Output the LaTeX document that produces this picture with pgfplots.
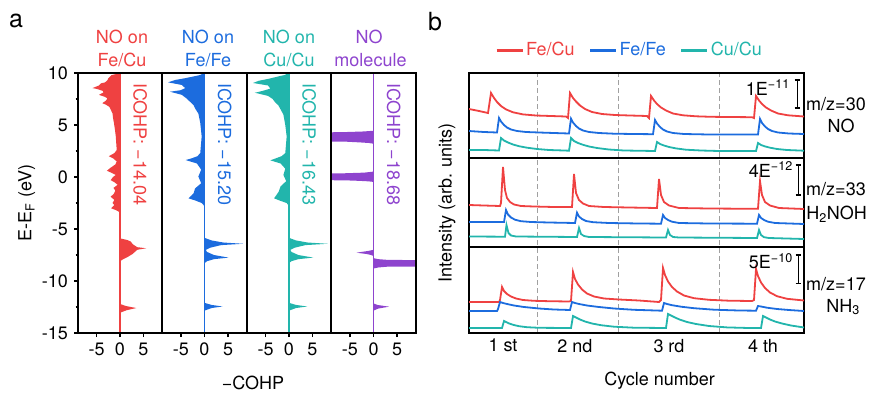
\documentclass[border=0pt]{standalone}
\usepackage{pgfplots}
\pgfplotsset{compat=1.18}
\usepackage{fontspec}
\setmainfont{TeX Gyre Heros}
\definecolor{fecu}{RGB}{239,65,65}
\definecolor{fefe}{RGB}{28,108,222}
\definecolor{cucu}{RGB}{34,181,172}
\definecolor{mol}{RGB}{142,68,206}
\definecolor{dashgray}{RGB}{160,160,160}
\tikzset{frm/.style={line width=1.6pt}}
\begin{document}
\fontsize{18}{21}\selectfont
\begin{tikzpicture}
\useasboundingbox (0pt,0pt) rectangle (875pt,392pt);
\pgfplotsset{
 pa/.style={scale only axis, height=260pt, anchor=south west,
   xmin=-9, xmax=9, ymin=-15, ymax=10, clip mode=individual,
   axis line style={line width=1.6pt}, tick style={black, line width=1.3pt},
   tick align=outside, major tick length=4pt, minor tick length=2.5pt,
   xtick={-5,0,5}, xticklabels={-5,0,5}, xtick pos=bottom, ytick pos=left,
   ytick=\empty, tick label style={font=\fontsize{18}{21}\selectfont},
   label style={font=\fontsize{18}{21}\selectfont}},
 fillp/.style={fill=#1, draw=none},
 zl/.style={#1, line width=1.6pt},
}
% ---------- panel a, subplot 1 ----------
\begin{axis}[pa, width=84pt, at={(78pt,59pt)}, ytick={-15,-10,-5,0,5,10}, yticklabels={-15,-10,-5,0,5,10},
  minor ytick={-12.5,-7.5,-2.5,2.5,7.5},
  ylabel={E-E\textsubscript{F} (eV)}, ylabel style={at={(axis description cs:-0.61,0.5)}, anchor=center}]
\addplot[fillp=fecu] coordinates {(0,10) (-0.3,9.95) (-1.8,9.8) (-2.5,9.5) (-2.7,9.3) (-3.2,9.1) (-4.1,9.0) (-4.5,8.8) (-5.9,8.55) (-4.8,8.45) (-3.8,8.3) (-3.5,8.15) (-4.5,7.9) (-3.2,7.7) (-2.7,7.55) (-3.0,7.35) (-3.8,7.1) (-3.0,6.95) (-2.3,6.75) (-2.0,6.5) (-1.6,6.1) (-1.5,5.7) (-1.3,5.2) (-1.1,4.6) (-0.9,3.9) (-0.8,3.2) (-0.7,2.6) (-1.2,2.3) (-2.4,2.0) (-1.5,1.8) (-0.7,1.5) (-1.0,1.2) (-2.0,0.9) (-2.8,0.6) (-1.8,0.4) (-0.9,0.2) (-1.5,0) (-2.0,-0.3) (-1.2,-0.5) (-0.5,-0.75) (-1.4,-1.05) (-1.0,-1.3) (-1.3,-1.6) (-2.0,-1.9) (-1.2,-2.2) (-1.6,-2.5) (-1.2,-2.7) (-1.9,-3.0) (-0.8,-3.2) (0,-3.4) (0,-5.9) (1.5,-6.05) (2.3,-6.2) (2.7,-6.45) (3.2,-6.6) (3.7,-6.75) (5.6,-6.85) (3.7,-7.0) (3.2,-7.2) (2.7,-7.4) (1.6,-7.7) (0.7,-7.9) (0,-8.1) (0,-12.2) (1.2,-12.4) (3.5,-12.6) (1.5,-12.8) (0,-13.05) (0,-15)};
\addplot[zl=fecu] coordinates {(0,-15) (0,10)};
\node[rotate=-90, anchor=west, inner sep=0pt, text=fecu] at (axis cs:4.3,9.05) {ICOHP: −14.04};
\draw[frm] (rel axis cs:0,0) rectangle (rel axis cs:1,1);
\end{axis}
% ---------- subplot 2 ----------
\begin{axis}[pa, width=85pt, at={(162pt,59pt)}, xlabel={−COHP}, xlabel style={at={(axis description cs:1.071,-0.192)}, anchor=center}]
\addplot[fillp=fefe] coordinates {(0,10) (-1.0,9.8) (-2.0,9.7) (-4.1,9.5) (-6.2,9.33) (-7.7,9.1) (-4.8,8.85) (-4.1,8.55) (-5.0,8.35) (-7.3,8.2) (-4.8,7.9) (-3.8,7.55) (-3.1,7.25) (-2.3,6.9) (-2.0,6.6) (-1.3,6.1) (-0.9,5.2) (-0.6,3.9) (-0.9,2.3) (-1.5,2.0) (-2.7,1.8) (-4.0,1.63) (-1.6,1.3) (-0.7,0.7) (-1.3,0.05) (-0.7,-0.6) (-2.0,-1.1) (-2.3,-1.55) (-2.8,-1.8) (-3.4,-2.05) (-2.0,-2.25) (-0.6,-2.5) (0,-2.8) (0,-5.85) (1.5,-6.1) (4.0,-6.3) (8.2,-6.42) (3.5,-6.55) (1.2,-6.8) (0.3,-7.0) (0.5,-7.2) (2.0,-7.5) (5.1,-7.75) (2.0,-7.9) (0.5,-8.1) (0,-8.3) (0,-12.1) (1.5,-12.3) (3.8,-12.45) (1.5,-12.6) (0,-12.85) (0,-15)};
\addplot[zl=fefe] coordinates {(0,-15) (0,10)};
\node[rotate=-90, anchor=west, inner sep=0pt, text=fefe] at (axis cs:4.3,9.05) {ICOHP: −15.20};
\draw[frm] (rel axis cs:0,0) rectangle (rel axis cs:1,1);
\end{axis}
% ---------- subplot 3 ----------
\begin{axis}[pa, width=84pt, at={(247pt,59pt)}]
\addplot[fillp=cucu] coordinates {(0,10) (-1.0,9.8) (-2.0,9.7) (-4.3,9.45) (-6.5,9.25) (-7.7,9.04) (-4.5,8.8) (-4.0,8.5) (-5.5,8.3) (-7.3,8.1) (-4.5,7.8) (-3.5,7.5) (-3.0,7.2) (-2.3,6.9) (-1.8,6.5) (-1.2,6.0) (-0.8,5.0) (-0.5,3.9) (-0.8,2.3) (-1.6,2.0) (-2.8,1.8) (-4.0,1.6) (-1.8,1.3) (-0.8,0.8) (-1.2,0.2) (-0.6,-0.4) (-1.8,-0.9) (-2.2,-1.4) (-2.8,-1.8) (-3.2,-2.05) (-1.8,-2.3) (-0.5,-2.5) (0,-2.8) (0,-5.85) (1.5,-6.1) (4.0,-6.3) (8.3,-6.42) (3.5,-6.55) (1.2,-6.8) (0.3,-7.0) (0.5,-7.2) (2.0,-7.5) (5.2,-7.75) (2.0,-7.9) (0.5,-8.1) (0,-8.3) (0,-12.1) (1.5,-12.3) (3.9,-12.45) (1.5,-12.6) (0,-12.85) (0,-15)};
\addplot[zl=cucu] coordinates {(0,-15) (0,10)};
\node[rotate=-90, anchor=west, inner sep=0pt, text=cucu] at (axis cs:4.3,9.05) {ICOHP: −16.43};
\draw[frm] (rel axis cs:0,0) rectangle (rel axis cs:1,1);
\end{axis}
% ---------- subplot 4 ----------
\begin{axis}[pa, width=85pt, at={(331pt,59pt)}]
\addplot[fillp=mol] coordinates {(0,10) (0,4.45) (-2,4.38) (-6,4.32) (-12,4.28) (-12,3.42) (-6,3.4) (-3,3.33) (-1,3.27) (0,3.2) (0,0.52) (-2,0.42) (-6,0.36) (-12,0.33) (-12,-0.3) (-6,-0.32) (-3,-0.37) (-1,-0.42) (0,-0.47) (0,-7.0) (-1,-7.1) (-2.5,-7.2) (-3.6,-7.28) (-1.5,-7.4) (-0.5,-7.5) (0,-7.6) (0,-7.8) (1,-7.9) (3,-7.97) (12,-8.0) (12,-8.6) (3,-8.62) (1,-8.7) (0,-8.8) (0,-12.15) (0.8,-12.3) (3.3,-12.47) (1,-12.65) (0,-12.85) (0,-15)};
\addplot[zl=mol] coordinates {(0,-15) (0,10)};
\node[rotate=-90, anchor=west, inner sep=0pt, text=mol] at (axis cs:4.3,9.05) {ICOHP: −18.68};
\draw[frm] (rel axis cs:0,0) rectangle (rel axis cs:1,1);
\end{axis}
% titles panel a
\node[anchor=base, text=fecu] at (122pt,348.7pt) {NO on};
\node[anchor=base, text=fecu] at (122pt,325.3pt) {Fe/Cu};
\node[anchor=base, text=fefe] at (208pt,348.7pt) {NO on};
\node[anchor=base, text=fefe] at (208pt,325.3pt) {Fe/Fe};
\node[anchor=base, text=cucu] at (289pt,348.7pt) {NO on};
\node[anchor=base, text=cucu] at (289pt,325.3pt) {Cu/Cu};
\node[anchor=base, text=mol] at (369pt,348.7pt) {NO};
\node[anchor=base, text=mol] at (370.5pt,325.3pt) {molecule};
\node[anchor=base west, inner sep=0pt, font=\fontsize{25}{28}\selectfont] at (9pt,364pt) {a};
\node[anchor=base west, inner sep=0pt, font=\fontsize{25}{28}\selectfont] at (428pt,362pt) {b};
% ---------- panel b ----------
\begin{axis}[at={(469pt,59pt)}, anchor=south west, scale only axis, width=335pt, height=260pt,
  xmin=0, xmax=335, ymin=0, ymax=260, clip mode=individual,
  axis line style={line width=1.6pt}, major tick length=0pt, ytick=\empty,
  xtick={34,106,200,294}, xticklabels={1 st,2 nd,3 rd,4 th},
  tick label style={font=\fontsize{18}{21}\selectfont},
  label style={font=\fontsize{18}{21}\selectfont},
  xlabel={Cycle number}, ylabel={Intensity (arb. units)},
  xlabel style={at={(axis description cs:0.569,-0.185)}, anchor=center},
  ylabel style={at={(axis description cs:-0.0657,0.5)}, anchor=center},
  every axis plot/.append style={line width=1.8pt},
  legend style={draw=none, fill=none, at={(0.479,1.088)}, anchor=center, legend columns=3,
    font=\fontsize{18}{21}\selectfont, /tikz/every even column/.append style={column sep=12pt}},
  legend image code/.code={\draw[#1, line width=3pt] (0pt,0pt) -- (26pt,0pt);}]
\draw[dashgray, line width=1pt, dash pattern=on 5pt off 3pt] (axis cs:68,0) -- (axis cs:68,260);
\draw[dashgray, line width=1pt, dash pattern=on 5pt off 3pt] (axis cs:149,0) -- (axis cs:149,260);
\draw[dashgray, line width=1pt, dash pattern=on 5pt off 3pt] (axis cs:250,0) -- (axis cs:250,260);
\draw[frm] (axis cs:0,175) -- (axis cs:335,175);
\draw[frm] (axis cs:0,86) -- (axis cs:335,86);
\draw[frm] (rel axis cs:0,0) rectangle (rel axis cs:1,1);
% NO
\addplot[fecu] coordinates {(0,224) (10,222) (19,220) (22,240) (25,235) (28,231) (32,227) (37,223.6) (44,220.7) (54,218.6) (67,217.5) (82,217) (97,216.5) (99,215) (101,240) (104,235) (107,231.5) (111,227.5) (116,224) (123,221) (133,219) (146,218) (161,217.5) (178,217) (180,215) (182,237) (185,232.5) (188,229) (192,225.5) (197,222.5) (204,219.5) (214,217.7) (227,216.7) (242,216.2) (260,216) (283,215.8) (285,215) (287,237) (290,232.5) (293,229) (297,225.5) (302,222.5) (309,219.5) (319,217.7) (335,216.5)};
\addlegendentry{\textcolor{fecu}{Fe/Cu}}
\addplot[fefe] coordinates {(0,202) (15,201) (28,200.5) (30,215) (32,211.5) (35,208) (38,205.5) (42,203.5) (48,202) (57,201) (70,200.5) (85,200) (100,199.5) (102,214.3) (104,210.5) (107,207) (110,204.5) (114,202.5) (120,201) (130,200) (145,199.3) (165,199) (184,198.8) (186,213) (188,209.5) (191,206) (194,203.5) (198,201.5) (204,200) (215,199) (235,198.6) (260,198.5) (289,198.5) (291,214) (293,210) (296,206.5) (299,204) (303,202) (309,200.5) (320,199.5) (335,199)};
\addlegendentry{\textcolor{fefe}{Fe/Fe}}
\addplot[cucu] coordinates {(0,183) (15,183) (30,182.5) (32,195) (35,192.5) (39,190.5) (44,188.5) (50,186.8) (58,185.3) (68,184) (80,183) (95,182.5) (100,182.3) (102,195) (105,192) (109,190) (114,188.2) (120,186.5) (128,185) (140,183.5) (155,182.5) (186,182) (188,191) (191,189) (195,187.5) (200,186) (207,184.6) (217,183.3) (232,182.5) (250,182) (287,182) (289,190) (292,188) (296,186.6) (301,185.3) (308,184) (318,183) (335,182.3)};
\addlegendentry{\textcolor{cucu}{Cu/Cu}}
% H2NOH
\addplot[fecu, forget plot] coordinates {(0,128) (15,127.5) (31,127) (32,130) (34,166) (36,143) (38,135) (41,131) (45,128.5) (52,127) (65,126.5) (85,126) (103,126) (105,159) (107,140) (110,133) (114,129.5) (120,127) (135,126) (160,125.5) (188,125) (190,154) (192,138) (195,131) (200,127.5) (210,125) (240,124.5) (270,124.3) (289,124.3) (291,152) (293,138) (296,131) (301,127.5) (310,125) (335,124)};
\addplot[fefe, forget plot] coordinates {(0,111) (20,111) (35,111) (37,123) (39,118.5) (42,115.5) (46,113.3) (52,111.8) (62,111) (80,110.5) (106,110) (108,120.3) (110,116.5) (113,114) (117,112) (124,110.8) (140,110) (170,109.5) (192,109.3) (194,118) (196,115) (199,113) (203,111.3) (210,110) (240,109.5) (288,109.3) (290,118) (292,115) (295,113) (299,111.3) (306,110) (335,109)};
\addplot[cucu, forget plot] coordinates {(0,96.5) (36,96.3) (37.5,108) (39.5,100) (42,97.5) (47,96.5) (108,96) (110,105) (112,99) (115,97) (120,96) (197,95.5) (199,103) (201,98) (204,96) (210,95.5) (288,95) (290,103) (292,98) (295,95.8) (300,95) (335,94)};
% NH3
\addplot[fecu, forget plot] coordinates {(0,31) (30,31) (31,33) (33,46) (35,42) (38,39) (42,36.5) (47,34.5) (54,33) (65,32.2) (80,31.8) (100,31.5) (102,32) (104,61) (106,54) (109,48.5) (113,43.5) (118,39.5) (125,36.5) (135,34.5) (150,33.5) (170,32.5) (190,31) (192,33) (194,65) (196,58) (199,51.5) (203,46) (208,41.5) (215,37.5) (225,34.8) (240,33.2) (260,32.3) (283,32) (285,33) (287,64) (289,57) (292,50.5) (296,45) (301,40.5) (308,36.8) (318,34.2) (335,32.5)};
\addplot[fefe, forget plot] coordinates {(0,22) (28,22) (29,24) (31,31) (34,30) (38,29) (45,27.5) (55,26) (70,24.5) (85,23.5) (101,23) (103,31) (106,30) (110,29) (118,27.5) (130,26) (145,24.5) (165,23.2) (193,22.3) (195,30) (198,29) (203,27.8) (212,26.3) (225,24.8) (245,23.3) (270,22.5) (287,22.3) (289,27) (292,26.5) (298,25.3) (308,24) (320,23) (335,22)};
\addplot[cucu, forget plot] coordinates {(0,5) (33,5) (35,12) (37,11) (40,9.6) (44,8.2) (50,6.8) (58,5.8) (70,5.2) (102,5) (104,17) (107,15.5) (111,13.5) (116,11.5) (123,9.5) (132,7.8) (145,6.3) (165,5.3) (197,5) (199,19) (202,17.5) (206,15.5) (211,13.3) (218,11) (227,9) (240,7) (258,5.6) (280,5) (292,5) (294,17) (297,15.5) (301,13.5) (306,11.5) (313,9.5) (322,7.5) (335,5.5)};
% scale bars
\node[anchor=base east, inner sep=0pt] at (axis cs:321,238) {1E\textsuperscript{−11}};
\draw[line width=1.3pt] (axis cs:328.3,225) -- (axis cs:328.3,253) (axis cs:325.5,225) -- (axis cs:331,225) (axis cs:325.5,253) -- (axis cs:331,253);
\node[anchor=base east, inner sep=0pt] at (axis cs:324,156) {4E\textsuperscript{−12}};
\draw[line width=1.3pt] (axis cs:329.3,138) -- (axis cs:329.3,168) (axis cs:326.5,138) -- (axis cs:332,138) (axis cs:326.5,168) -- (axis cs:332,168);
\node[anchor=base east, inner sep=0pt] at (axis cs:324,64.7) {5E\textsuperscript{−10}};
\draw[line width=1.3pt] (axis cs:329.3,49.7) -- (axis cs:329.3,78) (axis cs:326.5,49.7) -- (axis cs:332,49.7) (axis cs:326.5,78) -- (axis cs:332,78);
\end{axis}
% right labels
\node[anchor=base] at (836pt,282pt) {m/z=30};
\node[anchor=base] at (841pt,260pt) {NO};
\node[anchor=base] at (836pt,197pt) {m/z=33};
\node[anchor=base] at (836.5pt,172.7pt) {H\textsubscript{2}NOH};
\node[anchor=base] at (836pt,102pt) {m/z=17};
\node[anchor=base] at (843pt,80pt) {NH\textsubscript{3}};
\end{tikzpicture}
\end{document}
